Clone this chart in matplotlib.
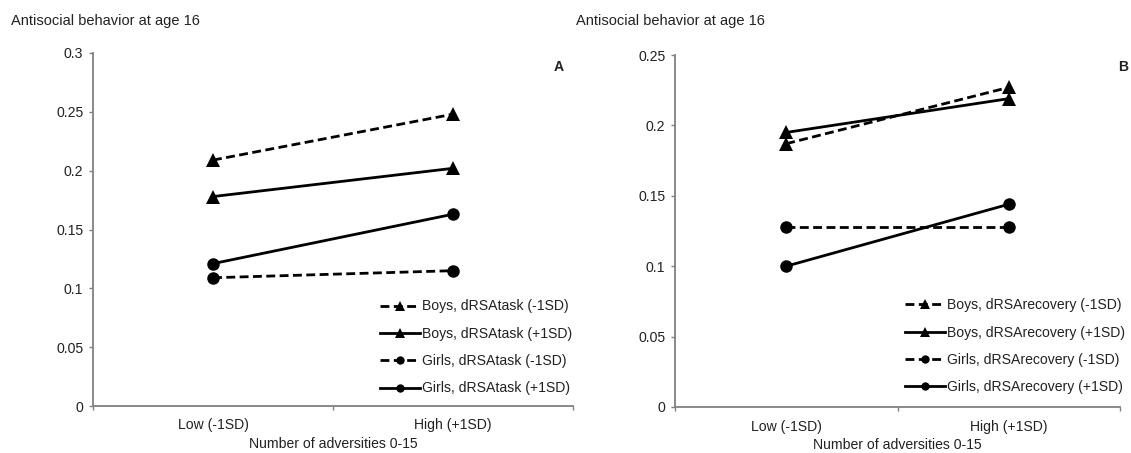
import matplotlib
matplotlib.use("Agg")
import matplotlib.pyplot as plt
from matplotlib.lines import Line2D

plt.rcParams['font.family'] = ['Liberation Sans', 'DejaVu Sans']

categories = ["Low (-1SD)", "High (+1SD)"]

# Panel A (dRSAtask)
a_labels = ["Boys, dRSAtask (-1SD)", "Boys, dRSAtask (+1SD)",
            "Girls, dRSAtask (-1SD)", "Girls, dRSAtask (+1SD)"]
a_boys_minus = [0.209, 0.248]
a_boys_plus = [0.178, 0.202]
a_girls_minus = [0.109, 0.115]
a_girls_plus = [0.121, 0.163]
a_yticks = [0, 0.05, 0.1, 0.15, 0.2, 0.25, 0.3]
a_yticklabels = ["0", "0.05", "0.1", "0.15", "0.2", "0.25", "0.3"]

# Panel B (dRSArecovery)
b_labels = ["Boys, dRSArecovery (-1SD)", "Boys, dRSArecovery (+1SD)",
            "Girls, dRSArecovery (-1SD)", "Girls, dRSArecovery (+1SD)"]
b_boys_minus = [0.187, 0.227]
b_boys_plus = [0.195, 0.219]
b_girls_minus = [0.128, 0.128]
b_girls_plus = [0.100, 0.144]
b_yticks = [0, 0.05, 0.1, 0.15, 0.2, 0.25]
b_yticklabels = ["0", "0.05", "0.1", "0.15", "0.2", "0.25"]

title = "Antisocial behavior at age 16"
xlabel = "Number of adversities 0-15"

W, H = 1131, 453
fig = plt.figure(figsize=(W / 100, H / 100), dpi=100)

FS = 10.1
TXT = '#222222'
AX = '#808080'
DASH = (0, (3.2, 1.6))


def panel(rect, series, labels, yticks, yticklabels, ymax, leg_anchor):
    ax = fig.add_axes(rect)
    x = list(range(len(categories)))
    styles = [(DASH, '^'), ('-', '^'), (DASH, 'o'), ('-', 'o')]
    handles = []
    for vals, (ls, mk), lab in zip(series, styles, labels):
        ms = 9.0 if mk == 'o' else 9.8
        ax.plot(x, vals, color='black', linestyle=ls, linewidth=2.0,
                marker=mk, markersize=ms, markeredgewidth=0, clip_on=False)
        handles.append(Line2D([], [], color='black', linestyle=ls, linewidth=2.0,
                              marker=mk, markersize=6 if mk == 'o' else 6.5,
                              markeredgewidth=0))
    ax.set_xlim(-0.5, len(categories) - 0.5)
    ax.set_ylim(0, ymax)
    ax.set_yticks(yticks)
    ax.set_yticklabels(yticklabels)
    ax.set_xticks([-0.5, 0.5, 1.5])
    ax.set_xticklabels([])
    ax.set_xticks(x, minor=True)
    ax.set_xticklabels(categories, minor=True)
    ax.tick_params(axis='x', which='minor', length=0, pad=9, labelsize=FS, labelcolor=TXT)
    ax.tick_params(axis='x', which='major', length=3, width=1.0, color=AX, direction='out')
    ax.tick_params(axis='y', length=3, width=1.0, color=AX, direction='out', pad=4,
                   labelsize=FS, labelcolor=TXT)
    for s in ['top', 'right']:
        ax.spines[s].set_visible(False)
    for s in ['left', 'bottom']:
        ax.spines[s].set_color(AX)
        ax.spines[s].set_linewidth(1.3)
    ax.set_xlabel(xlabel, fontsize=FS, color=TXT, labelpad=3)
    ax.legend(handles, labels, loc='lower left', bbox_to_anchor=leg_anchor,
              frameon=False, fontsize=FS, handlelength=2.9, handletextpad=0.15,
              labelspacing=0.95, borderpad=0, borderaxespad=0,
              labelcolor=TXT)
    return ax


axA = panel([93 / W, 1 - 406 / H, 480 / W, 353 / H],
            [a_boys_minus, a_boys_plus, a_girls_minus, a_girls_plus],
            a_labels, a_yticks, a_yticklabels, 0.3, (0.597, 0.03))
axB = panel([675 / W, 1 - 407 / H, 445 / W, 352 / H],
            [b_boys_minus, b_boys_plus, b_girls_minus, b_girls_plus],
            b_labels, b_yticks, b_yticklabels, 0.25, (0.516, 0.036))

fig.text(11 / W, 1 - 21 / H, title, fontsize=10.5, color=TXT, va='center', ha='left')
fig.text(576 / W, 1 - 21 / H, title, fontsize=10.5, color=TXT, va='center', ha='left')
fig.text(559 / W, 1 - 67 / H, "A", fontsize=FS, fontweight='bold', color=TXT,
         va='center', ha='center')
fig.text(1123 / W, 1 - 67 / H, "B", fontsize=FS, fontweight='bold', color=TXT,
         va='center', ha='center')

fig.savefig("out.png", dpi=100)
